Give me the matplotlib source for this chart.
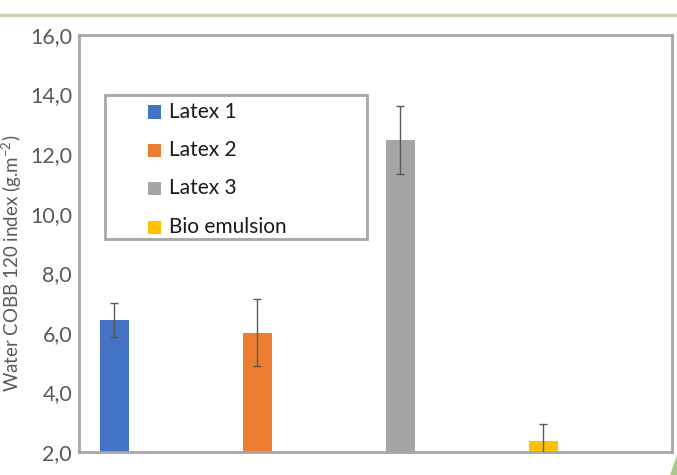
import matplotlib.pyplot as plt
from matplotlib.lines import Line2D
from matplotlib.patches import Polygon, Rectangle
from matplotlib.ticker import FuncFormatter

# values
products = ['Latex 1', 'Latex 2', 'Latex 3', 'Bio emulsion']
cobb_index = [6.43, 6.01, 12.48, 2.37]
cobb_err = [0.56, 1.13, 1.13, 0.57]
colors = ['#4472C4', '#ED7D31', '#A5A5A5', '#FFC000']
yticks = [2, 4, 6, 8, 10, 12, 14, 16]

plt.rcParams['font.family'] = ['Lato', 'DejaVu Sans']

W, H = 677, 475
fig = plt.figure(figsize=(W / 100, H / 100), dpi=100)
# axes box in pixels: x 79..672, y 35..452
AX0, AX1, AY0, AY1 = 79, 672, 35, 452
ax = fig.add_axes([AX0 / W, 1 - AY1 / H, (AX1 - AX0) / W, (AY1 - AY0) / H])


def axfrac(px, py):
    return (px - AX0) / (AX1 - AX0), (AY1 - py) / (AY1 - AY0)


x = list(range(len(products)))
ax.bar(x, cobb_index, width=0.203, color=colors, zorder=2)
ax.errorbar(x, cobb_index, yerr=cobb_err, fmt='none', ecolor='#595959',
            elinewidth=1.0, capsize=3, capthick=1.0, zorder=3)

ax.set_xlim(-0.248, 3.899)
ax.set_ylim(2, 16)
ax.set_yticks(yticks)
ax.yaxis.set_major_formatter(FuncFormatter(lambda v, p: f'{v:.1f}'.replace('.', ',')))
ax.set_xticks([])
ax.tick_params(axis='y', length=0, pad=5, labelsize=15.5, labelcolor='#595959')
for s in ax.spines.values():
    s.set_color('#A6A6A6')
    s.set_linewidth(2)

ax.set_ylabel('Water COBB 120 index (g.m$^{\\mathregular{-2}}$)', fontsize=13.5,
              color='#595959')
ax.yaxis.set_label_coords(*axfrac(24, 263))

# legend drawn as a fixed-size box, like the spreadsheet one
lx0, ly0 = axfrac(105, 239)
lx1, ly1 = axfrac(367, 95)
ax.add_patch(Rectangle((lx0, ly0), lx1 - lx0, ly1 - ly0, transform=ax.transAxes,
                       facecolor='white', edgecolor='#A6A6A6', linewidth=2, zorder=4))
entry_y = [112, 150, 188, 227]
for name, c, py in zip(products, colors, entry_y):
    sx, sy = axfrac(148, py + 6.5)
    sw = 13 / (AX1 - AX0)
    sh = 13 / (AY1 - AY0)
    ax.add_patch(Rectangle((sx, sy), sw, sh, transform=ax.transAxes,
                           facecolor=c, edgecolor='none', zorder=5))
    tx, ty = axfrac(169, py)
    ax.text(tx, ty, name, transform=ax.transAxes, fontsize=15, color='#1a1a1a',
            va='center', ha='left', zorder=5)

# slide decoration: green rule on top and corner in the bottom right
fig.add_artist(Line2D([0, 1], [1 - 15 / H, 1 - 15 / H], color='#C5D9A8', linewidth=2.5))
fig.add_artist(Polygon([[670 / W, 0], [1, 0], [1, 20 / H]], closed=True,
                       facecolor='#A9C98A', edgecolor='none'))

fig.savefig('out.png', dpi=100)
